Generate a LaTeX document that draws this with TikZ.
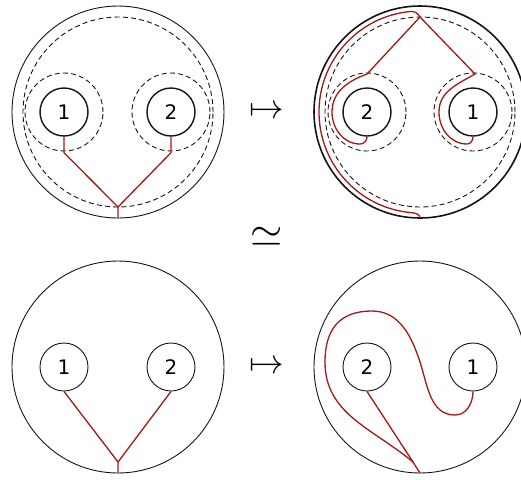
\documentclass[tikz,border=0pt]{standalone}
\usepackage{fontspec}
\setmainfont{DejaVu Sans}
\usepackage{tikz}
\definecolor{primary}{RGB}{20, 20, 20}
\definecolor{strand}{RGB}{165, 22, 22}

\begin{document}
\begin{tikzpicture}[x=0.5pt,y=0.5pt,
  disc/.style={primary,line width=0.45pt},
  hole/.style={draw=primary,circle,line width=0.7pt,minimum size=24pt,inner sep=0pt,font=\fontsize{10}{12}\selectfont},
  collar/.style={primary,line width=0.45pt,dash pattern=on 2.5pt off 1.6pt},
  arc/.style={strand,line width=0.65pt,line join=round}]
\useasboundingbox (0,0) rectangle (521,-479);
\begin{scope}[shift={(118,-112)}]
\draw[disc] (0,0) circle[radius=106];
\draw[collar] (0,0) circle[radius=95];
\node[hole] (a1) at (-54,0) {1};
\node[hole] (a2) at (53,0) {2};
\draw[collar] (a1.center) circle[radius=39];
\draw[collar] (a2.center) circle[radius=39];
\coordinate (aj) at (0,-95);
\coordinate (ab) at (0,-106);
\draw[arc] (a1.south) -- ++(0,-16) -- (aj) -- (ab);
\draw[arc] (a2.south) -- ++(0,-16) -- (aj);
\end{scope}
\node[font=\fontsize{16}{18}\selectfont] (m1) at (267,-112) {$\mapsto$};
\begin{scope}[shift={(420,-112)}]
\draw[disc,line width=0.8pt] (0,0) circle[radius=106];
\draw[collar] (0,0) circle[radius=95];
\node[hole] (b2) at (-53,0) {2};
\node[hole] (b1) at (53,0) {1};
\draw[collar] (b2.center) circle[radius=39];
\draw[collar] (b1.center) circle[radius=39];
\coordinate (bj) at (0,95);
\coordinate (bb) at (0,-106);
\draw[arc] (bj) -- (-53,38) to[out=-160,in=90] (-88,0) to[out=-90,in=180] (-60,-32) to[out=0,in=-90] (b2.south);
\draw[arc] (bj) -- (55,38) to[out=-150,in=90] (19,0) to[out=-90,in=180] (47,-32) to[out=0,in=-90] (b1.south);
\draw[arc] (bj) to[out=120,in=0] (95:101) arc[start angle=95,end angle=265,radius=101] to[out=-5,in=90] (bb);
\end{scope}
\node[font=\fontsize{20}{24}\selectfont] (eq) at (267,-237) {$\simeq$};
\begin{scope}[shift={(118,-367)}]
\draw[disc] (0,0) circle[radius=106];
\node[hole,line width=0.45pt] (c1) at (-54,0) {1};
\node[hole,line width=0.45pt] (c2) at (53,0) {2};
\coordinate (cj) at (0,-95);
\coordinate (cb) at (0,-106);
\draw[arc] (c1.south) -- (cj) -- (cb);
\draw[arc] (c2.south) -- (cj);
\end{scope}
\node[font=\fontsize{16}{18}\selectfont] (m2) at (267,-367) {$\mapsto$};
\begin{scope}[shift={(420,-367)}]
\draw[disc] (0,0) circle[radius=106];
\node[hole,line width=0.45pt] (d2) at (-53,0) {2};
\node[hole,line width=0.45pt] (d1) at (53,0) {1};
\coordinate (dj) at (-7,-95);
\coordinate (db) at (0,-106);
\draw[arc] (d2.south) -- (dj) -- (db);
\draw[arc] (dj) to[out=140,in=-90] (-95,5) to[out=90,in=180,looseness=1.2] (-48,56) to[out=0,in=108] (0,5) to[out=-72,in=180] (35,-48) to[out=0,in=-90] (d1.south);
\end{scope}
\end{tikzpicture}
\end{document}
